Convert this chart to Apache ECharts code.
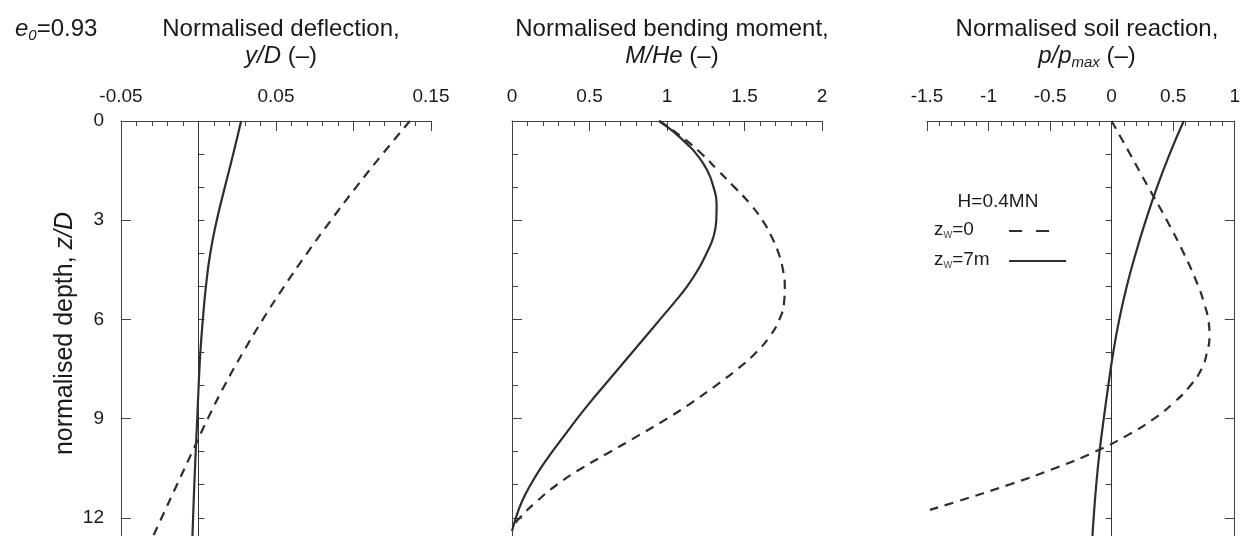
<!DOCTYPE html>
<html>
<head>
<meta charset="utf-8">
<script src="https://cdn.jsdelivr.net/npm/echarts@6/dist/echarts.min.js"></script>
<style>
html,body{margin:0;padding:0;background:#fff;}
#chart{width:1243px;height:536px;}
</style>
</head>
<body>
<div id="chart"></div>
<script>
// ---- data: [value, normalised depth z/D] ----
const deflDashed = [[0.1364,0],[0.1187,1],[0.1017,2],[0.0855,3],[0.0700,4],[0.0553,5],[0.0415,6],[0.0287,7],[0.0168,8],[0.0060,9],[-0.0040,10],[-0.0139,11],[-0.0238,12],[-0.0292,12.55]];
const deflSolid = [[0.0275,0],[0.0224,1],[0.0170,2],[0.0118,3],[0.0076,4],[0.0048,5],[0.0028,6],[0.0012,7],[0.0001,8],[-0.0008,9],[-0.0018,10],[-0.0027,11],[-0.0035,12],[-0.0039,12.55]];
const momDashed = [[0.95,0],[1.10,0.5],[1.225,1],[1.33,1.5],[1.435,2],[1.535,2.5],[1.615,3],[1.675,3.5],[1.72,4],[1.748,4.5],[1.76,5],[1.755,5.5],[1.725,6],[1.665,6.5],[1.575,7],[1.455,7.5],[1.315,8],[1.165,8.5],[1.0,9],[0.82,9.5],[0.635,10],[0.45,10.5],[0.29,11],[0.16,11.5],[0.05,12],[0.015,12.2]];
const momSolid = [[0.95,0],[1.035,0.3],[1.13,0.7],[1.19,1],[1.26,1.5],[1.30,2],[1.32,2.5],[1.318,3],[1.30,3.5],[1.255,4],[1.20,4.5],[1.13,5],[1.045,5.5],[0.955,6],[0.865,6.5],[0.775,7],[0.685,7.5],[0.595,8],[0.505,8.5],[0.42,9],[0.34,9.5],[0.26,10],[0.185,10.5],[0.12,11],[0.065,11.5],[0.025,12],[0.0,12.4]];
const soilDashed = [[0,0],[0.150,1],[0.298,2],[0.448,3],[0.586,4],[0.705,5],[0.75,5.5],[0.785,6],[0.795,6.5],[0.775,7],[0.73,7.5],[0.64,8],[0.51,8.5],[0.345,9],[0.13,9.5],[-0.135,10],[-0.46,10.5],[-0.835,11],[-1.25,11.5],[-1.476,11.76]];
const soilSolid = [[0.586,0],[0.471,1],[0.369,2],[0.278,3],[0.196,4],[0.123,5],[0.062,6],[0.013,7],[-0.027,8],[-0.064,9],[-0.098,10],[-0.125,11],[-0.146,12],[-0.156,12.55]];

const defl_ticks = ['-0.05','0.05','0.15'];
const mom_ticks = ['0','0.5','1','1.5','2'];
const soil_ticks = ['-1.5','-1','-0.5','0','0.5','1'];
const depth_ticks = ['0','3','6','9','12'];

const FONT = '"Liberation Sans", Arial, sans-serif';
const TXT = '#1a1a1a';
const AX = '#444';
const LINE = '#2e2e2e';
const DASH = [9, 7];

const grids = [
  {left: 121, top: 121, width: 310, bottom: 0},
  {left: 512, top: 121, width: 310, bottom: 0},
  {left: 927, top: 121, width: 310, bottom: 0}
];
const Y_MAX = 12.55;

function fmt(v){ return String(Math.round(v*1000)/1000); }

function xAxis(gi, min, max, interval, labels){
  return {
    type: 'value', gridIndex: gi, position: 'top', min: min, max: max, interval: interval,
    axisLine: {show: true, onZero: false, lineStyle: {color: AX, width: 1}},
    axisTick: {show: true, inside: true, length: 10, lineStyle: {color: AX, width: 1}},
    minorTick: {show: true, splitNumber: 5, length: 5, lineStyle: {color: AX, width: 1}},
    splitLine: {show: false}, minorSplitLine: {show: false},
    axisLabel: {
      show: true, margin: 15, fontFamily: FONT, fontSize: 19, color: TXT,
      formatter: v => { const s = fmt(v); return labels.indexOf(s) >= 0 ? s : ''; }
    }
  };
}
function yAxisMajor(gi, pos, showLabels, name){
  return {
    type: 'value', gridIndex: gi, inverse: true, position: pos, min: 0, max: Y_MAX, interval: 3,
    axisLine: {show: true, onZero: false, lineStyle: {color: AX, width: 1}},
    axisTick: {show: true, inside: true, length: 10, lineStyle: {color: AX, width: 1}},
    splitLine: {show: false},
    axisLabel: {
      show: showLabels, margin: 17, fontFamily: FONT, fontSize: 19, color: TXT,
      formatter: v => { const s = fmt(v); return depth_ticks.indexOf(s) >= 0 ? s : ''; }
    },
    name: name || '', nameLocation: 'middle', nameRotate: 90, nameGap: 43,
    nameTextStyle: {fontFamily: FONT, fontSize: 25, fontWeight: 'normal', color: TXT, padding: [0, 10, 0, 0],
      rich: {i: {fontFamily: FONT, fontSize: 25, fontStyle: 'italic', fontWeight: 'normal', color: TXT}}}
  };
}
function yAxisMinor(gi, pos){
  return {
    type: 'value', gridIndex: gi, inverse: true, position: pos, min: 0, max: Y_MAX, interval: 1,
    axisLine: {show: false},
    axisTick: {show: true, inside: true, length: 6, lineStyle: {color: AX, width: 1}},
    splitLine: {show: false}, axisLabel: {show: false}
  };
}

function lineSeries(name, data, xi, yi, dashed, extra){
  return Object.assign({
    type: 'line', name: name, data: data, xAxisIndex: xi, yAxisIndex: yi,
    symbol: 'none', smooth: 0.5, clip: true, silent: true,
    lineStyle: {color: LINE, width: 2.2, type: dashed ? DASH : 'solid'},
    itemStyle: {color: LINE}, z: 3
  }, extra || {});
}
const zeroLine = {
  silent: true, symbol: 'none', label: {show: false},
  lineStyle: {color: '#333', width: 1, type: 'solid'},
  data: [{xAxis: 0}]
};

const sub = {
  b: {fontFamily: FONT, fontSize: 24, fontWeight: 'normal', color: TXT, lineHeight: 27},
  i: {fontFamily: FONT, fontSize: 24, fontStyle: 'italic', fontWeight: 'normal', color: TXT, lineHeight: 27},
  s: {fontFamily: FONT, fontSize: 15, fontStyle: 'italic', fontWeight: 'normal', color: TXT, lineHeight: 17, verticalAlign: 'bottom'}
};
const legRich = {
  z: {fontFamily: FONT, fontSize: 19, fontWeight: 'normal', color: TXT, lineHeight: 22},
  w: {fontFamily: FONT, fontSize: 12, fontWeight: 'normal', color: '#555', lineHeight: 12, verticalAlign: 'bottom'}
};

const option = {
  backgroundColor: '#fff',
  animation: false,
  grid: grids,
  title: [
    {text: '{i|e}{s|0}{b|=0.93}', left: 10, top: 11, textStyle: {fontWeight: 'normal', rich: sub}},
    {text: '{b|Normalised deflection,}\n{i|y/D}{b| (–)}', left: 276, top: 11, textAlign: 'center', textStyle: {fontWeight: 'normal', rich: sub}},
    {text: '{b|Normalised bending moment,}\n{i|M/He}{b| (–)}', left: 667, top: 11, textAlign: 'center', textStyle: {fontWeight: 'normal', rich: sub}},
    {text: '{b|Normalised soil reaction,}\n{i|p/p}{s|max}{b| (–)}', left: 1082, top: 11, textAlign: 'center', textStyle: {fontWeight: 'normal', rich: sub}},
    {text: 'H=0.4MN', left: 993, top: 187, textAlign: 'center', textStyle: {fontFamily: FONT, fontSize: 19, fontWeight: 'normal', color: TXT}},
    {text: '{z|z}{w|w}{z|=0}', left: 929, top: 214, textStyle: {fontWeight: 'normal', rich: legRich}},
    {text: '{z|z}{w|w}{z|=7m}', left: 929, top: 244, textStyle: {fontWeight: 'normal', rich: legRich}}
  ],
  legend: [
    {left: 1003, top: 221, itemWidth: 40, itemHeight: 10, itemGap: 0, selectedMode: false,
     formatter: () => '', itemStyle: {opacity: 0},
     data: [{name: 'zw0', itemStyle: {opacity: 0}, lineStyle: {type: [13, 14], width: 2.2, color: LINE, opacity: 1}}]},
    {left: 1003, top: 251, itemWidth: 57, itemHeight: 10, itemGap: 0, selectedMode: false,
     formatter: () => '', itemStyle: {opacity: 0},
     data: [{name: 'zw7', itemStyle: {opacity: 0}, lineStyle: {type: 'solid', width: 2.2, color: LINE, opacity: 1}}]}
  ],
  xAxis: [
    xAxis(0, -0.05, 0.15, 0.05, defl_ticks),
    xAxis(1, 0, 2, 0.5, mom_ticks),
    xAxis(2, -1.5, 1, 0.5, soil_ticks)
  ],
  yAxis: [
    yAxisMajor(0, 'left', true, 'normalised depth, {i|z/D}'),
    yAxisMinor(0, 'left'),
    yAxisMajor(1, 'left', false),
    yAxisMinor(1, 'left'),
    yAxisMajor(2, 'right', false),
    yAxisMinor(2, 'right')
  ],
  series: [
    lineSeries('zw0', deflDashed, 0, 0, true),
    lineSeries('zw7', deflSolid, 0, 0, false, {markLine: zeroLine}),
    lineSeries('zw0', momDashed, 1, 2, true),
    lineSeries('zw7', momSolid, 1, 2, false),
    lineSeries('zw0', soilDashed, 2, 4, true),
    lineSeries('zw7', soilSolid, 2, 4, false, {markLine: zeroLine})
  ]
};

const chart = echarts.init(document.getElementById('chart'), null, {renderer: 'canvas'});
chart.setOption(option);
</script>
</body>
</html>
